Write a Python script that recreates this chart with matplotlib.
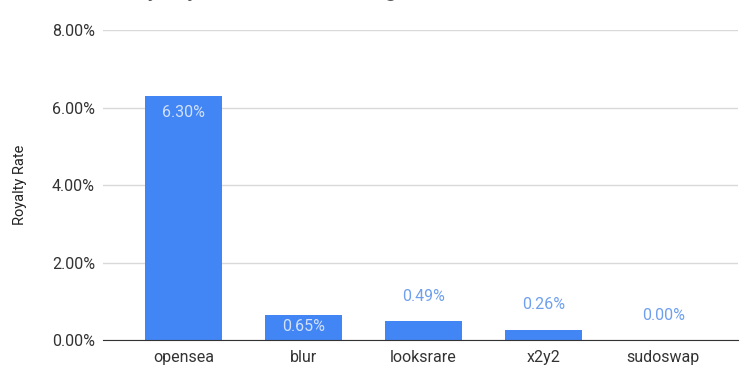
import matplotlib.pyplot as plt
from matplotlib.ticker import PercentFormatter

markets = ['opensea', 'blur', 'looksrare', 'x2y2', 'sudoswap']
rates = [6.30, 0.65, 0.49, 0.26, 0.00]
inside = [True, True, False, False, False]

plt.rcParams['font.family'] = ['Roboto', 'DejaVu Sans']

fig = plt.figure(figsize=(7.48, 3.78), dpi=100)
ax = fig.add_axes([0.138, 0.1005, 0.849, 0.8201])

x = range(len(markets))
bars = ax.bar(x, rates, width=0.64, color='#4285f4', zorder=3)

for i, (b, v) in enumerate(zip(bars, rates)):
    cx = b.get_x() + b.get_width() / 2
    if inside[i]:
        off = -12 if v > 1 else -8.5
        ax.annotate(f'{v:.2f}%', (cx, v), xytext=(0, off), textcoords='offset points',
                    ha='center', va='center', fontsize=11.5, color='#d2e1fb', zorder=4)
    else:
        ax.annotate(f'{v:.2f}%', (cx, v), xytext=(0, 18), textcoords='offset points',
                    ha='center', va='center', fontsize=11.5, color='#6fa0ee', zorder=4)

ax.set_xlim(-0.667, 4.625)
ax.set_ylim(0, 8)
ax.set_yticks([0, 2, 4, 6, 8])
ax.yaxis.set_major_formatter(PercentFormatter(decimals=2))
ax.set_xticks(list(x))
ax.set_xticklabels(markets)
ax.grid(axis='y', color='#d9d9d9', linewidth=1, zorder=0)
for s in ['top', 'right', 'left']:
    ax.spines[s].set_visible(False)
ax.spines['bottom'].set_color('#333333')
ax.spines['bottom'].set_zorder(5)
ax.tick_params(axis='both', length=0, labelsize=11.5, colors='#333333')
ax.tick_params(axis='x', pad=7)
ax.tick_params(axis='y', pad=6)
ax.set_ylabel('Royalty Rate', fontsize=10.5, color='#222222', labelpad=18)

# title sits mostly above the canvas, as in the cropped original
fig.text(118 / 748, 1.0 + 4.0 / 378, 'Royalty Rate Paid Among Markets', fontsize=18,
         color='#555555', ha='left', va='baseline')

fig.savefig('out.png', dpi=100)
